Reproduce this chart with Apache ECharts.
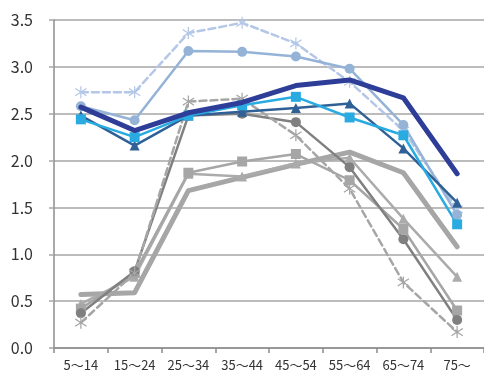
<!DOCTYPE html>
<html>
<head>
<meta charset="utf-8">
<script src="https://cdn.jsdelivr.net/npm/echarts@6/dist/echarts.min.js"></script>
<style>
  html, body { margin: 0; padding: 0; background: #ffffff; }
  #chart { width: 484px; height: 374px; }
</style>
</head>
<body>
<div id="chart"></div>
<script>
// Age groups along the horizontal axis
const ageGroups = ['5〜14', '15〜24', '25〜34', '35〜44', '45〜54', '55〜64', '65〜74', '75〜'];

// Blue family
const blueDashStar = [2.73, 2.73, 3.36, 3.47, 3.25, 2.84, 2.32, 1.48];
const blueCircle   = [2.58, 2.43, 3.17, 3.16, 3.11, 2.98, 2.38, 1.42];
const blueSquare   = [2.44, 2.25, 2.48, 2.59, 2.68, 2.46, 2.27, 1.32];
const blueTriangle = [2.48, 2.16, 2.48, 2.52, 2.56, 2.61, 2.13, 1.55];
const blueThick    = [2.57, 2.32, 2.51, 2.62, 2.80, 2.86, 2.67, 1.86];

// Gray family
const grayDashStar = [0.27, 0.80, 2.63, 2.66, 2.27, 1.70, 0.70, 0.17];
const grayCircle   = [0.37, 0.82, 2.48, 2.50, 2.41, 1.93, 1.16, 0.30];
const graySquare   = [0.42, 0.80, 1.87, 1.99, 2.07, 1.79, 1.27, 0.40];
const grayTriangle = [0.47, 0.76, 1.86, 1.83, 1.97, 2.03, 1.38, 0.76];
const grayThick    = [0.57, 0.59, 1.68, 1.82, 1.96, 2.09, 1.87, 1.08];

// Six-armed asterisk marker built from three thin bars
const asterisk = 'path://M9,0L11,0L11,20L9,20Z' +
  'M1.55,3.17L19.55,15.17L18.45,16.83L0.45,4.83Z' +
  'M0.45,15.17L18.45,3.17L19.55,4.83L1.55,16.83Z';

function line(data, color, opts) {
  opts = opts || {};
  return {
    type: 'line',
    data: data,
    symbol: opts.symbol || 'none',
    symbolSize: opts.symbolSize || 9,
    showSymbol: !!opts.symbol,
    lineStyle: {
      color: color,
      width: opts.width || 2.5,
      type: opts.dashed ? [7, 4] : 'solid',
      cap: 'round',
      join: 'round'
    },
    itemStyle: { color: color, borderWidth: 0 },
    z: opts.z || 2,
    animation: false,
    silent: true
  };
}

const chart = echarts.init(document.getElementById('chart'), null, { renderer: 'canvas' });

chart.setOption({
  backgroundColor: '#ffffff',
  animation: false,
  grid: { left: 54, top: 20, width: 432, height: 328 },
  xAxis: {
    type: 'category',
    data: ageGroups,
    boundaryGap: true,
    axisLine: { show: true, lineStyle: { color: '#8c8c8c', width: 1.5 } },
    axisTick: { show: true, length: 5, interval: 0, alignWithLabel: false, lineStyle: { color: '#8c8c8c', width: 1.5 } },
    axisLabel: {
      interval: 0,
      hideOverlap: false,
      margin: 11,
      color: '#333333',
      fontSize: 13,
      fontFamily: '"Noto Sans CJK JP", "Noto Sans", sans-serif'
    },
    splitLine: { show: false }
  },
  yAxis: {
    type: 'value',
    min: 0,
    max: 3.5,
    interval: 0.5,
    axisLine: { show: true, lineStyle: { color: '#8c8c8c', width: 1.5 } },
    axisTick: { show: true, length: 5, lineStyle: { color: '#a6a6a6', width: 1.5 } },
    axisLabel: {
      margin: 21,
      color: '#333333',
      fontSize: 16,
      fontFamily: '"Noto Sans CJK JP", "Noto Sans", sans-serif',
      formatter: v => v.toFixed(1)
    },
    splitLine: { show: true, lineStyle: { color: '#a6a6a6', width: 1.5 } }
  },
  series: [
    line(grayThick, '#a6a6a6', { width: 5, z: 2 }),
    line(grayTriangle, '#ababab', { symbol: 'triangle', symbolSize: 10, z: 3 }),
    line(graySquare, '#a6a6a6', { symbol: 'rect', symbolSize: 10, z: 3 }),
    line(grayCircle, '#808080', { symbol: 'circle', symbolSize: 10, z: 3 }),
    line(grayDashStar, '#a6a6a6', { symbol: asterisk, symbolSize: 12, dashed: true, z: 3 }),
    line(blueDashStar, '#b4c7e7', { symbol: asterisk, symbolSize: 12, dashed: true, z: 4 }),
    line(blueCircle, '#95b3d7', { symbol: 'circle', symbolSize: 10, z: 4 }),
    line(blueTriangle, '#2f6096', { symbol: 'triangle', symbolSize: 10, z: 4 }),
    line(blueSquare, '#29abe2', { symbol: 'rect', symbolSize: 10, z: 4 }),
    line(blueThick, '#2e3d98', { width: 5, z: 5 })
  ]
});
</script>
</body>
</html>
